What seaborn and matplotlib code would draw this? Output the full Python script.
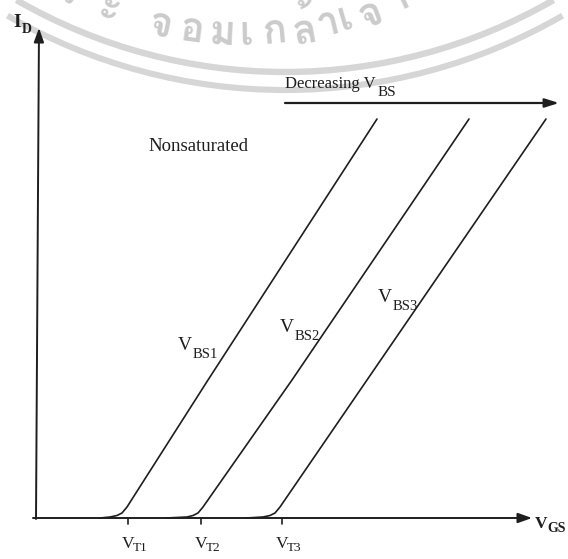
import math
import numpy as np
import pandas as pd
import matplotlib
matplotlib.use("Agg")
import matplotlib.pyplot as plt
from matplotlib.patches import Arc
from matplotlib import font_manager
import seaborn as sns

# ---- data: drain current vs gate-source voltage for three body biases ----
i_d = [0.0, 0.02, 0.05, 0.10, 0.22, 2.76, 7.98]
vgs_bs1 = [1.28, 1.48, 1.62, 1.72, 1.82, 3.44, 6.82]
vgs_bs2 = [2.60, 3.02, 3.14, 3.24, 3.34, 5.12, 8.66]
vgs_bs3 = [4.20, 4.54, 4.68, 4.78, 4.88, 6.62, 10.20]
curve_names = ["BS1", "BS2", "BS3"]
curve_subs = ["BS1", "BS2", "BS3"]
label_pos = [(2.84, 3.36), (4.88, 3.72), (6.84, 4.32)]
thresholds = [1.84, 3.30, 4.92]
threshold_subs = ["T1", "T2", "T3"]

sns.set_theme(style="white")
plt.rcParams["font.family"] = ["Liberation Serif", "DejaVu Serif"]

ink = "#1e1e1e"
fig = plt.figure(figsize=(5.68, 5.59), dpi=100)
ax = fig.add_axes([0, 0, 1, 1])
ax.set_xlim(-0.72, 10.64)
ax.set_ylim(-0.82, 10.36)
ax.set_axis_off()


def sub_label(x, y, main, sub, size, sub_size, dx, dy, weight="normal"):
    """Main symbol with a subscript placed dx px right and dy px down."""
    ax.text(x, y, main, fontsize=size, color=ink, weight=weight,
            ha="left", va="baseline")
    ax.annotate(sub, xy=(x, y), xytext=(dx, -dy), textcoords="offset pixels",
                fontsize=sub_size, color=ink, weight=weight,
                ha="left", va="baseline")


# ---- faint circular seal in the background ----
seal_c = (4.98, 19.66)
for r, lw in [(10.74, 4.6), (11.10, 4.4)]:
    ax.add_patch(Arc(seal_c, 2 * r, 2 * r, theta1=240, theta2=300,
                     color="#d6d6d6", lw=lw, zorder=0))

thai_font = None
try:
    from matplotlib.ft2font import FT2Font
    for f in font_manager.fontManager.ttflist:
        try:
            if FT2Font(f.fname).get_char_index(0x0E08):
                thai_font = f.fname
                break
        except Exception:
            continue
except Exception:
    thai_font = None

if thai_font is not None:
    fp = font_manager.FontProperties(fname=thai_font, size=29)
    seal_chars = ["ร", "ะ", "จ", "อ", "ม", "เ", "ก", "ล้", "า", "เ", "จ้", "า"]
    seal_x = [68, 109, 161, 192, 222, 246, 275, 304, 328, 345, 370, 398]
    tc_x, tc_y, tr = (240 - 36) / 50, (518 + 338) / 50, 373 / 50
    for ch, px in zip(seal_chars, seal_x):
        th = math.asin(((px - 36) / 50 - tc_x) / tr)
        ax.text(tc_x + tr * math.sin(th), tc_y - tr * math.cos(th), ch,
                fontproperties=fp, color="#cbcbcb", rotation=math.degrees(th),
                ha="center", va="center", zorder=0)

# ---- transfer characteristics ----
df = pd.concat([
    pd.DataFrame({"V_GS": xs, "I_D": i_d, "curve": name})
    for xs, name in zip([vgs_bs1, vgs_bs2, vgs_bs3], curve_names)
])
sns.lineplot(data=df, x="V_GS", y="I_D", hue="curve", sort=False,
             palette=[ink] * 3, legend=False, lw=1.2, ax=ax, zorder=3)

for sub, (x, y) in zip(curve_subs, label_pos):
    sub_label(x, y, "V", sub, 14, 10.5, 15, 8)

# ---- axes with arrow heads ----
arrow_kw = dict(arrowstyle="-|>,head_length=0.7,head_width=0.25",
                color=ink, lw=1.4, shrinkA=0, shrinkB=0)
ax.annotate("", xy=(0.06, 9.80), xytext=(0.0, -0.02), arrowprops=arrow_kw)
ax.annotate("", xy=(9.92, 0.0), xytext=(-0.06, 0.0), arrowprops=arrow_kw)
sub_label(-0.46, 9.82, "I", "D", 14, 10, 9, 6, weight="bold")
sub_label(9.98, -0.20, "V", "GS", 12.5, 10, 12, 4, weight="bold")

# threshold tick marks
for vt, sub in zip(thresholds, threshold_subs):
    ax.plot([vt, vt], [0, -0.11], color=ink, lw=1.2)
    sub_label(vt - 0.12, -0.60, "V", sub, 12.5, 9.5, 11, 3)

# ---- annotations ----
ax.text(4.98, 8.60, "Decreasing V", fontsize=12, color=ink,
        ha="left", va="baseline")
ax.annotate("BS", xy=(4.98, 8.60), xytext=(93, -8), textcoords="offset pixels",
            fontsize=11, color=ink, ha="left", va="baseline")
ax.annotate("", xy=(10.46, 8.30), xytext=(4.98, 8.30),
            arrowprops=dict(arrowstyle="-|>,head_length=0.7,head_width=0.22",
                            color=ink, lw=1.6, shrinkA=0, shrinkB=0))
ax.text(2.24, 7.34, "Nonsaturated", fontsize=13.5, color=ink,
        ha="left", va="baseline")

fig.savefig("out.png", dpi=100, facecolor="white")
